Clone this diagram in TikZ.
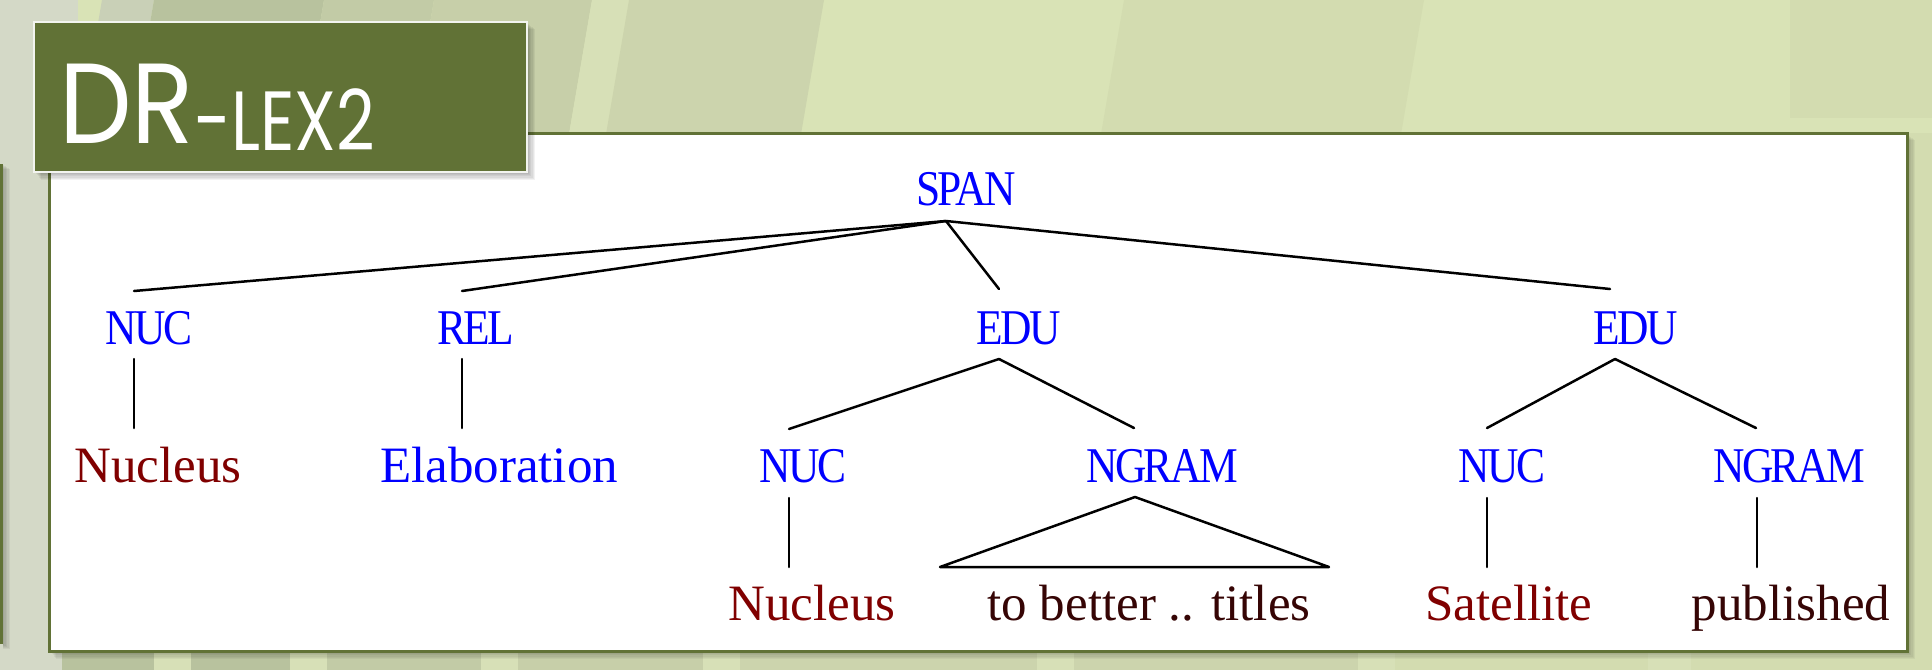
\documentclass[tikz,border=0pt]{standalone}
\usepackage{fontspec}
\setmainfont{Liberation Serif}
\newfontfamily\labelfont[LetterSpace=-6]{Liberation Serif}
\newfontfamily\titlefont{Poppins}

\definecolor{olive}{HTML}{617236}
\definecolor{bgbase}{HTML}{D9E3B6}
\definecolor{bggray}{HTML}{D4D9C7}
\definecolor{bandA}{HTML}{B8C29E}
\definecolor{bandB}{HTML}{C2CBA6}
\definecolor{bandC}{HTML}{C7CFA9}
\definecolor{bandL}{HTML}{D7E0B7}
\definecolor{bandD}{HTML}{CCD4AD}
\definecolor{bandE}{HTML}{D3DCB0}
\definecolor{nodeblue}{HTML}{0000FF}
\definecolor{leafred}{HTML}{800000}
\definecolor{leafdark}{HTML}{360505}

% tightly set category labels
\newcommand\tightlabel[1]{\scalebox{0.87}[1]{#1}}
% slanted background band between two x positions
\newcommand\slantband[3]{\fill[#3] (#1+24,0) -- (#2+24,0) -- (#2,140) -- (#1,140) -- cycle;}

\begin{document}
\begin{tikzpicture}[x=1pt,y=-1pt,
  lbl/.style={text=nodeblue, font=\labelfont\fontsize{50}{60}\selectfont, anchor=base, inner sep=0pt},
  word/.style={font=\fontsize{51}{60}\selectfont, anchor=base, inner sep=0pt},
  nucword/.style={word, text=leafred},
  relword/.style={word, text=nodeblue},
  txtword/.style={word, text=leafdark},
  edge/.style={draw=black, line width=2.5pt, line cap=round, line join=round}]

\useasboundingbox (0,0) rectangle (1932,670);

% ---------- background ----------
\fill[bgbase] (0,0) rectangle (1932,670);
\fill[bggray] (0,0) rectangle (78,670);
\slantband{78}{130}{bggray!60!bandA}
\slantband{130}{300}{bandA}
\slantband{300}{410}{bandB}
\slantband{410}{568}{bandC}
\slantband{568}{605}{bandL}
\slantband{605}{800}{bandD}
\slantband{1100}{1400}{bandE}
\fill[bandE] (1790,0) rectangle (1932,118);
\fill[bandE] (1907,133) rectangle (1932,651);
% bottom columns
\fill[bandA] (62,645) rectangle (154,670);
\fill[bandL] (154,645) rectangle (191,670);
\fill[bandA] (191,645) rectangle (290,670);
\fill[bandL] (290,645) rectangle (327,670);
\fill[bandB] (327,645) rectangle (481,670);
\fill[bandL] (481,645) rectangle (518,670);
\fill[bandC] (518,645) rectangle (703,670);
\fill[bandL] (703,645) rectangle (740,670);
\fill[bandD] (740,645) rectangle (1037,670);
\fill[bandL] (1037,645) rectangle (1074,670);
\fill[bandD] (1074,645) rectangle (1358,670);
\fill[bandL] (1358,645) rectangle (1395,670);
\fill[bandE] (1395,645) rectangle (1648,670);
\fill[bandL] (1648,645) rectangle (1691,670);
\fill[bandE] (1691,645) rectangle (1932,670);

% edge of a neighbouring panel on the far left
\foreach \i in {1,...,5} \fill[black, opacity=0.05] (3,164+\i) rectangle (3+\i*1.4,644+\i);
\fill[olive] (0,164) rectangle (3,644);

% ---------- white panel ----------
\foreach \i in {1,...,7} \fill[black, opacity=0.045] (49+\i,133+\i) rectangle (1907+\i*1.1,651+\i*1.1);
\fill[white, draw=olive, line width=3pt] (49,133) rectangle (1907,651);

% ---------- title box ----------
\foreach \i in {1,...,7} \fill[black, opacity=0.05] (34+\i,22+\i) rectangle (527+\i*1.1,172+\i*1.1);
\fill[olive, draw=white!92!olive, line width=1.6pt] (34,22) rectangle (527,172);
\node[anchor=base west, inner sep=0pt, text=white, font=\titlefont\fontsize{114}{114}\selectfont] (title) at (59,143)
  {\scalebox{0.9}[1]{DR}\raisebox{-7pt}{\fontsize{84}{84}\selectfont\scalebox{0.8}[1]{-LEX2}}};

% ---------- tree labels ----------
\node[lbl] (span) at (966,205) {\tightlabel{SPAN}};

\node[lbl] (nucA) at (149,344) {\tightlabel{NUC}};
\node[lbl] (rel)  at (476,344) {\tightlabel{REL}};
\node[lbl] (eduA) at (1019,344) {\tightlabel{EDU}};
\node[lbl] (eduB) at (1636,344) {\tightlabel{EDU}};

\node[nucword] (nucleusA) at (158,482) {Nucleus};
\node[relword] (elab)     at (499,482) {Elaboration};
\node[lbl] (nucB)   at (803,482) {\tightlabel{NUC}};
\node[lbl] (ngramA) at (1162,482) {\tightlabel{NGRAM}};
\node[lbl] (nucC)   at (1502,482) {\tightlabel{NUC}};
\node[lbl] (ngramB) at (1789,482) {\tightlabel{NGRAM}};

\node[nucword] (nucleusB) at (812,620) {Nucleus};
\node[txtword] (better)   at (1149,620) {to better .. titles};
\node[nucword] (satel)    at (1509,620) {Satellite};
\node[txtword] (publ)     at (1791,620) {published};

% ---------- attachment points ----------
\coordinate (span-dn) at (946,221);
\coordinate (nucA-up) at (134,291);
\coordinate (rel-up)  at (462,291);
\coordinate (eduA-up) at (999,289);
\coordinate (eduB-up) at (1610,289);

\coordinate (nucA-dn) at (134,359);
\coordinate (nucleusA-up) at (134,428);
\coordinate (rel-dn)  at (462,359);
\coordinate (elab-up) at (462,428);
\coordinate (eduA-dn) at (999,359);
\coordinate (nucB-up) at (789,429);
\coordinate (ngramA-up) at (1134,428);
\coordinate (eduB-dn) at (1615,359);
\coordinate (nucC-up) at (1487,428);
\coordinate (ngramB-up) at (1756,428);

\coordinate (nucB-dn) at (789,498);
\coordinate (nucleusB-up) at (789,567);
\coordinate (ngramA-dn) at (1135,497);
\coordinate (better-l) at (940,567);
\coordinate (better-r) at (1329,567);
\coordinate (nucC-dn) at (1487,498);
\coordinate (satel-up) at (1487,567);
\coordinate (ngramB-dn) at (1757,498);
\coordinate (publ-up) at (1757,567);

% ---------- connectors ----------
\draw[edge] (span-dn) -- (nucA-up);
\draw[edge] (span-dn) -- (rel-up);
\draw[edge] (span-dn) -- (eduA-up);
\draw[edge] (span-dn) -- (eduB-up);

\draw[edge] (nucA-dn) -- (nucleusA-up);
\draw[edge] (rel-dn) -- (elab-up);
\draw[edge] (eduA-dn) -- (nucB-up);
\draw[edge] (eduA-dn) -- (ngramA-up);
\draw[edge] (eduB-dn) -- (nucC-up);
\draw[edge] (eduB-dn) -- (ngramB-up);

\draw[edge] (nucB-dn) -- (nucleusB-up);
\draw[edge] (ngramA-dn) -- (better-l) -- (better-r) -- cycle;
\draw[edge] (nucC-dn) -- (satel-up);
\draw[edge] (ngramB-dn) -- (publ-up);
\end{tikzpicture}
\end{document}
